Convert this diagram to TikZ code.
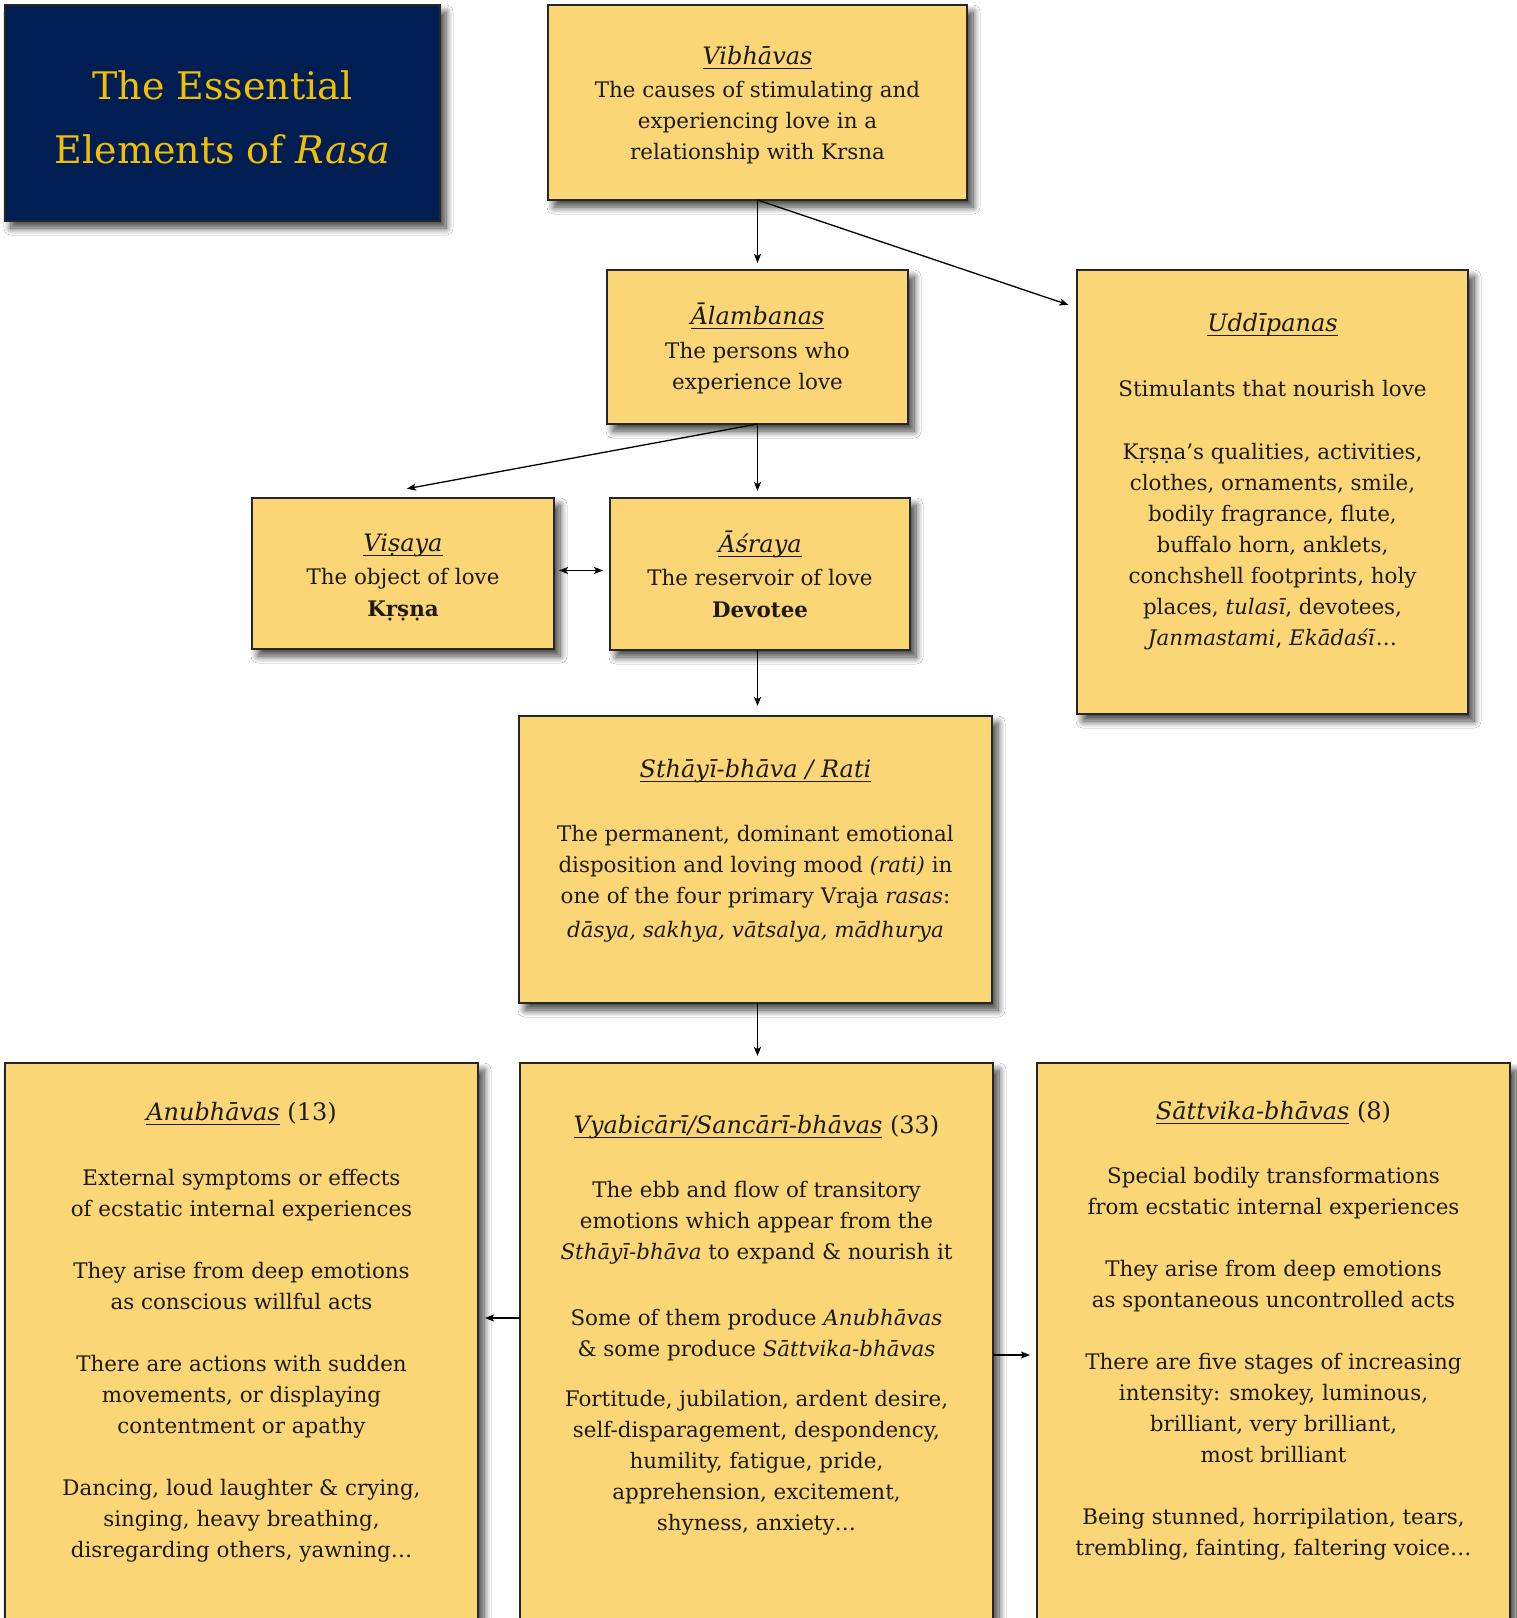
\documentclass[tikz,border=0pt]{standalone}
\usepackage{fontspec}
\setmainfont{DejaVu Serif}
\usetikzlibrary{arrows.meta,calc,shadows.blur}

\definecolor{boxfill}{RGB}{250,214,118}
\definecolor{navy}{RGB}{0,30,82}
\definecolor{gold}{RGB}{242,192,0}
\definecolor{ink}{RGB}{30,26,14}

% body and heading sizes
\newcommand\bodyfont{\fontsize{21.4pt}{31pt}\selectfont}
\newcommand\hd[1]{{\fontsize{24pt}{31pt}\selectfont #1}}
% underline sitting just under the baseline
\newcommand\hdline[1]{\setbox0\hbox{#1}\rlap{\rule[-4.5pt]{\wd0}{1.2pt}}\box0\relax}
% text block of a card: height, width, top padding, content
\newcommand\cardtext[4]{\parbox[c][#1][t]{#2}{\centering\vspace*{#3}\strut #4}}

\tikzset{
  card/.style={draw=black!85, line width=1.8pt, fill=boxfill, inner sep=0pt,
    outer sep=0pt, anchor=north west, text=ink, font=\bodyfont,
    blur shadow={shadow xshift=6pt, shadow yshift=-7pt, shadow opacity=75,
      shadow blur steps=12, shadow blur radius=7pt}},
  titlecard/.style={card, fill=navy, text=gold,
    font=\fontsize{38pt}{64pt}\selectfont},
  arr/.style={-{Stealth[length=9pt,width=7pt,inset=2pt]}, line width=1.3pt,
    draw=black, shorten >=7pt},
  dblarr/.style={{Stealth[length=9pt,width=7pt,inset=2pt]}-{Stealth[length=9pt,width=7pt,inset=2pt]},
    line width=1.3pt, draw=black, shorten >=7pt, shorten <=5pt},
}

\begin{document}
\begin{tikzpicture}[x=1pt,y=-1pt]
\path[use as bounding box, fill=white] (0,0) rectangle (1517,1618);

% title
\node[titlecard] (ttl) at (5,5)
  {\cardtext{216pt}{435pt}{50pt}{The Essential\\Elements of \textit{Rasa}}};

% upper chain
\node[card] (vib) at (548,5)
  {\cardtext{195pt}{419pt}{38pt}{\hd{\hdline{\textit{Vibhāvas}}}\\[2pt]
   The causes of stimulating and\\ experiencing love in a\\ relationship with Krsna}};

\node[card] (alam) at (607,270)
  {\cardtext{154pt}{301pt}{33pt}{\hd{\hdline{\textit{Ālambanas}}}\\[3pt]
   The persons who\\ experience love}};

\node[card] (udd) at (1077,270)
  {\cardtext{444pt}{391pt}{40pt}{\hd{\hdline{\textit{Uddīpanas}}}\\[34pt]
   Stimulants that nourish love\\[32pt]
   Kṛṣṇa’s qualities, activities,\\ clothes, ornaments, smile,\\
   bodily fragrance, flute,\\ buffalo horn, anklets,\\
   conchshell footprints, holy\\ places, \textit{tulasī}, devotees,\\
   \textit{Janmastami}, \textit{Ekādaśī}\ldots}};

\node[card] (vis) at (252,498)
  {\cardtext{151pt}{302pt}{32pt}{\hd{\hdline{\textit{Viṣaya}}}\\[2pt]
   The object of love\\[1pt] \textbf{Kṛṣṇa}}};

\node[card] (asr) at (610,498)
  {\cardtext{152pt}{300pt}{33pt}{\hd{\hdline{\textit{Āśraya}}}\\[2pt]
   The reservoir of love\\[1pt] \textbf{Devotee}}};

\node[card] (sth) at (519,716)
  {\cardtext{287pt}{473pt}{40pt}{\hd{\hdline{\textit{Sthāyī-bhāva / Rati}}}\\[33pt]
   The permanent, dominant emotional\\
   disposition and loving mood \textit{(rati)} in\\
   one of the four primary Vraja \textit{rasas}:\\[3pt]
   \textit{dāsya, sakhya, vātsalya, mādhurya}}};

% lower row
\node[card] (anu) at (5,1063)
  {\cardtext{600pt}{473pt}{36pt}{\hd{\hdline{\textit{Anubhāvas}} (13)}\\[34pt]
   External symptoms or effects\\ of ecstatic internal experiences\\[31pt]
   They arise from deep emotions\\ as conscious willful acts\\[31pt]
   There are actions with sudden\\ movements, or displaying\\ contentment or apathy\\[31pt]
   Dancing, loud laughter \& crying,\\ singing, heavy breathing,\\
   disregarding others, yawning\ldots}};

\node[card] (vya) at (520,1063)
  {\cardtext{600pt}{473pt}{49pt}{\hd{\hdline{\textit{Vyabicārī/Sancārī-bhāvas}} (33)}\\[33pt]
   The ebb and flow of transitory\\ emotions which appear from the\\
   \textit{Sthāyī-bhāva} to expand \& nourish it\\[35pt]
   Some of them produce \textit{Anubhāvas}\\ \& some produce \textit{Sāttvika-bhāvas}\\[19pt]
   Fortitude, jubilation, ardent desire,\\ self-disparagement, despondency,\\
   humility, fatigue, pride,\\ apprehension, excitement,\\ shyness, anxiety\ldots}};

\node[card] (sat) at (1037,1063)
  {\cardtext{600pt}{473pt}{35pt}{\hd{\hdline{\textit{Sāttvika-bhāvas}} (8)}\\[33pt]
   Special bodily transformations\\ from ecstatic internal experiences\\[31pt]
   They arise from deep emotions\\ as spontaneous uncontrolled acts\\[31pt]
   There are five stages of increasing\\ intensity: smokey, luminous,\\
   brilliant, very brilliant,\\ most brilliant\\[31pt]
   Being stunned, horripilation, tears,\\ trembling, fainting, faltering voice\ldots}};

% connectors
\draw[arr] (vib.south) -- (alam.north);
\draw[arr, shorten >=9pt] (vib.south) -- ($(udd.north west)!0.085!(udd.south west)$);
\draw[arr] (alam.south) -- (alam.south |- asr.north);
\draw[arr] (alam.south) -- ($(vis.north)+(-3,-8)$);
\draw[dblarr] ($(vis.east)+(0,-3)$) -- ($(vis.east -| asr.west)+(0,-3)$);
\draw[arr, shorten >=10pt] (alam.south |- asr.south) -- (alam.south |- sth.north);
\draw[arr] (alam.south |- sth.south) -- (alam.south |- vya.north);
\draw[arr] ($(vya.north west)+(0,255)$) -- ($(anu.north east)+(0,255)$);
\draw[arr] ($(vya.north east)+(0,292)$) -- ($(sat.north west)+(0,292)$);
\end{tikzpicture}
\end{document}
